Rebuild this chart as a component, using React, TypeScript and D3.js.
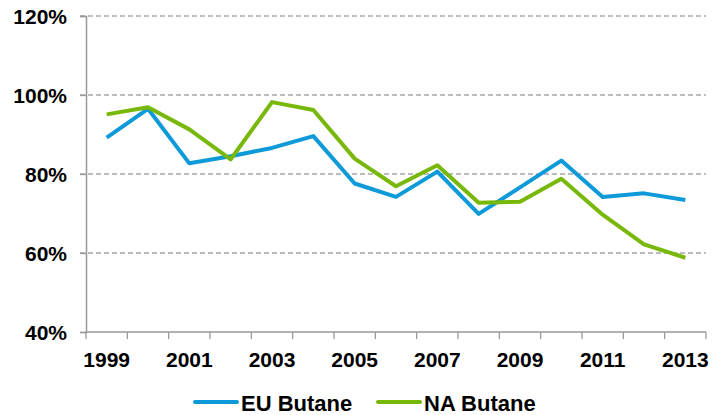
import * as d3 from 'd3';
import { useEffect, useRef } from 'react';

// years on the x axis
const years = ['1999', '2000', '2001', '2002', '2003', '2004', '2005', '2006', '2007', '2008', '2009', '2010', '2011', '2012', '2013'];
// shown labels (every other year)
const yearLabels = ['1999', '2001', '2003', '2005', '2007', '2009', '2011', '2013'];
// utilisation in %
const euButane = [89.2, 96.5, 82.7, 84.5, 86.6, 89.6, 77.6, 74.2, 80.6, 69.9, 76.6, 83.4, 74.2, 75.1, 73.4];
const naButane = [95.1, 96.9, 91.3, 83.7, 98.2, 96.2, 83.9, 76.9, 82.2, 72.7, 73.0, 78.8, 69.7, 62.2, 58.8];
const yTicks = [40, 60, 80, 100, 120];

const series = [
  { name: 'EU Butane', values: euButane, color: '#0E9AD8' },
  { name: 'NA Butane', values: naButane, color: '#78B80A' },
];

const W = 712;
const H = 415;
const margin = { top: 16, right: 6, bottom: 83, left: 86 };

const App = () => {
  const ref = useRef<SVGSVGElement | null>(null);

  useEffect(() => {
    const svg = d3.select(ref.current);
    svg.selectAll('*').remove();

    const innerW = W - margin.left - margin.right;
    const innerH = H - margin.top - margin.bottom;

    const x = d3.scaleBand().domain(years).range([0, innerW]);
    const y = d3.scaleLinear().domain([40, 120]).range([innerH, 0]);

    const g = svg.append('g').attr('transform', `translate(${margin.left},${margin.top})`);

    // gridlines
    g.selectAll('.grid')
      .data(yTicks.filter(t => t > 40))
      .enter()
      .append('line')
      .attr('x1', -6)
      .attr('x2', innerW)
      .attr('y1', d => y(d))
      .attr('y2', d => y(d))
      .attr('stroke', '#A6A6A6')
      .attr('stroke-width', 1.3)
      .attr('stroke-dasharray', '5,3');

    // y axis
    const yAxis = g.append('g').call(
      d3.axisLeft(y).tickValues(yTicks).tickSize(6).tickFormat(d => `${d}%`)
    );
    yAxis.select('.domain').attr('stroke', '#999').attr('stroke-width', 1.5);
    yAxis.selectAll('.tick line').attr('stroke', '#999').attr('stroke-width', 1.3);
    yAxis.selectAll('.tick text')
      .attr('x', -19)
      .attr('dy', '0.36em')
      .style('font-family', '"Liberation Sans", Arial, sans-serif')
      .style('font-weight', 'bold')
      .style('font-size', '21px')
      .attr('fill', '#000');

    // x axis: ticks at category boundaries
    const xg = g.append('g').attr('transform', `translate(0,${innerH})`);
    xg.append('line').attr('x1', 0).attr('x2', innerW).attr('stroke', '#999').attr('stroke-width', 1.5);
    const bounds = years.map(d => x(d) as number).concat([innerW]);
    xg.selectAll('.xt')
      .data(bounds)
      .enter()
      .append('line')
      .attr('x1', d => d)
      .attr('x2', d => d)
      .attr('y1', 0)
      .attr('y2', 7)
      .attr('stroke', '#999')
      .attr('stroke-width', 1.3);
    xg.selectAll('.xl')
      .data(yearLabels)
      .enter()
      .append('text')
      .attr('x', d => (x(d) as number) + x.bandwidth() / 2)
      .attr('y', 35)
      .attr('text-anchor', 'middle')
      .style('font-family', '"Liberation Sans", Arial, sans-serif')
      .style('font-weight', 'bold')
      .style('font-size', '21px')
      .attr('fill', '#000')
      .text(d => d);

    // lines
    const line = d3.line<number>()
      .x((_, i) => (x(years[i]) as number) + x.bandwidth() / 2)
      .y(d => y(d));

    series.forEach(s => {
      g.append('path')
        .datum(s.values)
        .attr('d', line)
        .attr('fill', 'none')
        .attr('stroke', s.color)
        .attr('stroke-width', 4)
        .attr('stroke-linejoin', 'round');
    });

    // legend
    const legendPos = [195, 378];
    series.forEach((s, i) => {
      const lg = svg.append('g').attr('transform', `translate(${legendPos[i]},402)`);
      lg.append('line')
        .attr('x1', 0)
        .attr('x2', 42)
        .attr('stroke', s.color)
        .attr('stroke-width', 4)
        .attr('stroke-linecap', 'round');
      lg.append('text')
        .attr('x', 46)
        .attr('y', 9)
        .style('font-family', '"Liberation Sans", Arial, sans-serif')
        .style('font-weight', 'bold')
        .style('font-size', '22px')
        .attr('fill', '#000')
        .text(s.name);
    });
  }, []);

  return (
    <div style={{ position: 'absolute', left: 0, top: 0 }}>
      <svg ref={ref} width={W} height={H} style={{ display: 'block', background: '#fff' }}></svg>
    </div>
  );
};

export default App;
